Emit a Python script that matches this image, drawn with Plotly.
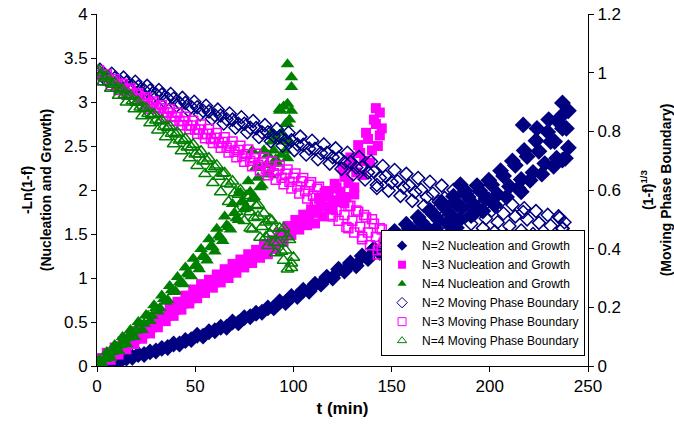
import plotly.graph_objects as go

# ---- Nucleation and growth, -Ln(1-f) (left axis) ----
t_n2_ng = [0, 3, 6, 9, 12, 15, 18, 21, 24, 27, 30, 33, 36, 39, 42, 45, 48, 51, 54, 57, 60,
           63, 66, 69, 72, 75, 78, 81, 84, 87, 90, 93, 96, 99, 102, 105, 108, 111, 114, 117, 120,
           123, 126, 129, 132, 135, 138, 141, 144, 147, 150, 153, 156, 159, 162, 165, 168, 171,
           174, 177, 180, 183, 186, 189, 192, 195, 198, 201, 204, 207, 210, 213, 216, 219, 222,
           225, 228, 231, 234, 237, 240,
           151.5, 154.5, 157.5, 160.5, 163.5, 166.5, 169.5, 172.5, 175.5, 178.5, 181.5, 184.5,
           187.5, 190.5, 193.5, 196.5, 199.5, 202.5, 205.5, 208.5, 211.5, 214.5, 217.5, 220.5,
           223.5, 226.5, 229.5, 232.5, 235.5, 238.5,
           217, 224, 237, 236, 239, 183, 237, 216, 185, 230, 240, 233]
v_n2_ng = [0.00, 0.01, 0.03, 0.05, 0.06, 0.09, 0.10, 0.13, 0.13, 0.16, 0.17, 0.20, 0.21, 0.25,
           0.25, 0.29, 0.30, 0.35, 0.34, 0.39, 0.40, 0.44, 0.44, 0.50, 0.49, 0.55, 0.56, 0.60,
           0.61, 0.66, 0.66, 0.73, 0.72, 0.79, 0.79, 0.86, 0.85, 0.93, 0.93, 1.01, 1.00, 1.10,
           1.08, 1.17, 1.14, 1.25, 1.22, 1.33, 1.29, 1.42, 1.36, 1.48, 1.45, 1.56, 1.52, 1.64,
           1.57, 1.73, 1.66, 1.80, 1.72, 1.84, 1.80, 1.92, 1.83, 1.99, 1.90, 2.06, 1.95, 2.16,
           2.04, 2.28, 2.12, 2.38, 2.20, 2.44, 2.30, 2.55, 2.36, 2.70, 2.48,
           1.53, 1.35, 1.61, 1.42, 1.69, 1.49, 1.77, 1.56, 1.86, 1.62, 1.93, 1.66, 1.99, 1.71,
           2.05, 1.76, 2.11, 1.83, 2.22, 1.92, 2.33, 2.02, 2.45, 2.11, 2.56, 2.18, 2.66, 2.27,
           2.76, 2.36,
           2.74, 2.70, 2.99, 2.83, 2.70, 1.57, 2.34, 1.98, 2.06, 2.80, 2.90, 2.55]

t_n3_ng = [0, 2, 4, 6, 8, 10, 12, 14, 16, 18, 20, 22, 24, 26, 28, 30, 32, 34, 36, 38, 40, 42,
           44, 46, 48, 50, 52, 54, 56, 58, 60, 62, 64, 66, 68, 70, 72, 74, 76, 78, 80, 82, 84,
           86, 88, 90, 92, 94, 96, 98, 100, 102, 104, 106, 108, 110, 112, 114, 116, 118, 120,
           122, 124, 126, 128, 130, 132, 134, 136, 138, 140, 142, 144,
           1, 3, 5, 7, 9, 11, 13, 15, 17, 19, 21, 23, 25, 27, 29, 31, 33, 35, 37, 39, 41, 43,
           45, 47, 49, 51, 53, 55, 57, 59, 61, 63, 65, 67, 69, 71, 73, 75, 77, 79, 81, 83, 85,
           87, 89, 91, 93, 95, 97, 99, 101, 103, 105, 107, 109, 111, 113, 115, 117, 119, 121,
           123, 125, 127, 129, 131, 133, 135, 137, 139, 141, 143,
           142, 144, 145, 131, 126, 120, 116]
v_n3_ng = [0.02, 0.06, 0.07, 0.13, 0.13, 0.19, 0.19, 0.25, 0.25, 0.31, 0.31, 0.37, 0.37, 0.44,
           0.44, 0.50, 0.51, 0.57, 0.57, 0.64, 0.64, 0.70, 0.71, 0.77, 0.77, 0.84, 0.84, 0.90,
           0.90, 0.95, 0.95, 1.01, 1.01, 1.07, 1.07, 1.12, 1.13, 1.18, 1.19, 1.24, 1.24, 1.29,
           1.29, 1.34, 1.35, 1.40, 1.41, 1.48, 1.49, 1.56, 1.57, 1.63, 1.62, 1.69, 1.67, 1.75,
           1.74, 1.84, 1.81, 1.93, 1.88, 2.03, 1.98, 2.15, 2.08, 2.27, 2.20, 2.42, 2.33, 2.58,
           2.45, 2.75, 2.62,
           0.09, 0.01, 0.15, 0.07, 0.21, 0.13, 0.28, 0.19, 0.34, 0.25, 0.40, 0.31, 0.46, 0.37,
           0.53, 0.44, 0.60, 0.51, 0.66, 0.57, 0.73, 0.64, 0.80, 0.71, 0.87, 0.77, 0.93, 0.83,
           0.98, 0.89, 1.04, 0.95, 1.10, 1.00, 1.16, 1.06, 1.21, 1.12, 1.27, 1.17, 1.32, 1.23,
           1.38, 1.27, 1.43, 1.33, 1.51, 1.41, 1.59, 1.49, 1.66, 1.55, 1.72, 1.60, 1.78, 1.62,
           1.90, 1.70, 1.98, 1.78, 2.07, 1.88, 2.26, 1.92, 2.37, 2.03, 2.51, 2.17, 2.65, 2.31,
           2.80, 2.50,
           2.93, 2.88, 2.70, 1.95, 1.85, 1.78, 1.95]

t_n4_ng = [0, 2, 4, 6, 8, 10, 12, 14, 16, 18, 20, 22, 24, 26, 28, 30, 32, 34, 36, 38, 40, 42,
           44, 46, 48, 50, 52, 54, 56, 58, 60, 62, 64, 66, 68, 70, 72, 74, 76, 78, 80, 82, 84,
           86, 88, 90, 92, 94, 96, 98,
           1, 3, 5, 7, 9, 11, 13, 15, 17, 19, 21, 23, 25, 27, 29, 31, 33, 35, 37, 39, 41, 43,
           45, 47, 49, 51, 53, 55, 57, 59, 61, 63, 65, 67, 69, 71, 73, 75, 77, 79, 81, 83, 85,
           87, 89, 91, 93, 95, 97,
           97, 99, 99, 95, 97, 93, 96, 91, 89, 87, 85, 98, 94, 99, 83, 90, 79, 97]
v_n4_ng = [0.00, 0.05, 0.08, 0.14, 0.16, 0.22, 0.24, 0.31, 0.32, 0.39, 0.40, 0.48, 0.48, 0.57,
           0.57, 0.66, 0.66, 0.76, 0.75, 0.86, 0.85, 0.95, 0.93, 1.05, 1.02, 1.14, 1.10, 1.25,
           1.20, 1.36, 1.30, 1.48, 1.42, 1.60, 1.55, 1.74, 1.66, 1.86, 1.80, 1.98, 1.92, 2.14,
           2.05, 2.28, 2.18, 2.45, 2.30, 2.65, 2.45, 2.80,
           0.07, 0.01, 0.16, 0.09, 0.24, 0.17, 0.33, 0.25, 0.41, 0.33, 0.50, 0.41, 0.58, 0.51,
           0.69, 0.62, 0.80, 0.73, 0.91, 0.84, 1.01, 0.94, 1.12, 1.04, 1.22, 1.14, 1.33, 1.24,
           1.44, 1.35, 1.56, 1.46, 1.70, 1.58, 1.84, 1.68, 1.97, 1.78, 2.10, 1.90, 2.26, 2.03,
           2.45, 2.18, 2.66, 2.35, 2.90, 2.55, 2.75,
           3.43, 3.28, 3.17, 2.95, 2.98, 2.92, 2.75, 2.60, 2.55, 2.40, 2.45, 2.55, 2.40, 2.90,
           2.25, 2.30, 2.45, 2.36]

# ---- Moving phase boundary, (1-f)^(1/3) (right axis) ----
t_n2_mpb = [0, 3, 6, 9, 12, 15, 18, 21, 24, 27, 30, 33, 36, 39, 42, 45, 48, 51, 54, 57, 60,
            63, 66, 69, 72, 75, 78, 81, 84, 87, 90, 93, 96, 99, 102, 105, 108, 111, 114, 117,
            120, 123, 126, 129, 132, 135, 138, 141, 144, 147, 150, 153, 156, 159, 162, 165, 168,
            171, 174, 177, 180, 183, 186, 189, 192, 195, 198, 201, 204, 207, 210, 213, 216, 219,
            222, 225, 228, 231, 234, 237, 240,
            1.5, 4.5, 7.5, 10.5, 13.5, 16.5, 19.5, 22.5, 25.5, 28.5, 31.5, 34.5, 37.5, 40.5,
            43.5, 46.5, 49.5, 52.5, 55.5, 58.5, 61.5, 64.5, 67.5, 70.5, 73.5, 76.5, 79.5, 82.5,
            85.5, 88.5, 91.5, 94.5, 97.5, 100.5, 103.5, 106.5, 109.5, 112.5, 115.5, 118.5, 121.5,
            124.5, 127.5, 130.5, 133.5, 136.5, 139.5, 142.5, 145.5, 148.5, 151.5, 154.5, 157.5,
            160.5, 163.5, 166.5, 169.5, 172.5, 175.5, 178.5, 181.5, 184.5, 187.5, 190.5, 193.5,
            196.5, 199.5, 202.5, 205.5, 208.5, 211.5, 214.5, 217.5, 220.5, 223.5, 226.5, 229.5,
            232.5, 235.5, 238.5,
            230, 236, 238, 235, 225, 218, 181, 224, 239, 237, 217, 142.5]
v_n2_mpb = [1.000, 0.995, 0.983, 0.981, 0.969, 0.967, 0.955, 0.953, 0.940, 0.939, 0.926, 0.925,
            0.912, 0.911, 0.897, 0.897, 0.883, 0.882, 0.870, 0.868, 0.855, 0.854, 0.841, 0.840,
            0.826, 0.826, 0.812, 0.811, 0.797, 0.797, 0.784, 0.783, 0.769, 0.769, 0.755, 0.754,
            0.741, 0.740, 0.726, 0.726, 0.712, 0.710, 0.694, 0.694, 0.677, 0.678, 0.660, 0.662,
            0.642, 0.646, 0.626, 0.630, 0.609, 0.615, 0.593, 0.601, 0.576, 0.588, 0.560, 0.573,
            0.543, 0.561, 0.530, 0.551, 0.517, 0.540, 0.503, 0.530, 0.490, 0.520, 0.477, 0.510,
            0.462, 0.500, 0.450, 0.488, 0.436, 0.478, 0.425, 0.468, 0.412,
            1.010, 0.976, 0.996, 0.961, 0.983, 0.947, 0.969, 0.932, 0.955, 0.917, 0.941, 0.902,
            0.927, 0.888, 0.914, 0.873, 0.901, 0.858, 0.887, 0.843, 0.874, 0.827, 0.861, 0.812,
            0.848, 0.797, 0.835, 0.781, 0.821, 0.766, 0.808, 0.751, 0.795, 0.736, 0.782, 0.721,
            0.768, 0.705, 0.755, 0.690, 0.742, 0.672, 0.727, 0.654, 0.712, 0.636, 0.697, 0.617,
            0.682, 0.598, 0.668, 0.580, 0.655, 0.563, 0.641, 0.546, 0.628, 0.528, 0.615, 0.510,
            0.600, 0.497, 0.590, 0.485, 0.580, 0.470, 0.570, 0.458, 0.560, 0.445, 0.550, 0.430,
            0.538, 0.420, 0.528, 0.405, 0.515, 0.395, 0.505, 0.385,
            0.390, 0.410, 0.490, 0.510, 0.410, 0.440, 0.470, 0.410, 0.400, 0.470, 0.525, 0.607]

t_n3_mpb = [0, 2, 4, 6, 8, 10, 12, 14, 16, 18, 20, 22, 24, 26, 28, 30, 32, 34, 36, 38, 40, 42,
            44, 46, 48, 50, 52, 54, 56, 58, 60, 62, 64, 66, 68, 70, 72, 74, 76, 78, 80, 82, 84,
            86, 88, 90, 92, 94, 96, 98, 100, 102, 104, 106, 108, 110, 112, 114, 116, 118, 120,
            122, 124, 126, 128, 130, 132, 134, 136, 138, 140, 142, 144, 146,
            1, 3, 5, 7, 9, 11, 13, 15, 17, 19, 21, 23, 25, 27, 29, 31, 33, 35, 37, 39, 41, 43,
            45, 47, 49, 51, 53, 55, 57, 59, 61, 63, 65, 67, 69, 71, 73, 75, 77, 79, 81, 83, 85,
            87, 89, 91, 93, 95, 97, 99, 101, 103, 105, 107, 109, 111, 113, 115, 117, 119, 121,
            123, 125, 127, 129, 131, 133, 135, 137, 139, 141, 143, 145,
            143, 145, 135, 128, 120, 112, 87]
v_n3_mpb = [1.000, 0.992, 0.986, 0.976, 0.970, 0.960, 0.955, 0.944, 0.940, 0.928, 0.925, 0.912,
            0.910, 0.897, 0.894, 0.882, 0.879, 0.866, 0.864, 0.851, 0.849, 0.836, 0.834, 0.821,
            0.820, 0.806, 0.806, 0.790, 0.792, 0.774, 0.778, 0.760, 0.764, 0.744, 0.750, 0.730,
            0.736, 0.715, 0.722, 0.700, 0.708, 0.686, 0.694, 0.672, 0.680, 0.657, 0.668, 0.642,
            0.655, 0.628, 0.642, 0.612, 0.630, 0.596, 0.618, 0.580, 0.604, 0.565, 0.590, 0.548,
            0.575, 0.532, 0.560, 0.515, 0.545, 0.495, 0.530, 0.475, 0.515, 0.455, 0.500, 0.440,
            0.470, 0.420,
            1.008, 0.973, 0.994, 0.957, 0.978, 0.941, 0.962, 0.925, 0.946, 0.909, 0.931, 0.893,
            0.916, 0.877, 0.902, 0.863, 0.889, 0.849, 0.876, 0.835, 0.863, 0.821, 0.850, 0.807,
            0.836, 0.792, 0.823, 0.776, 0.808, 0.760, 0.794, 0.744, 0.780, 0.728, 0.765, 0.712,
            0.751, 0.696, 0.738, 0.681, 0.724, 0.665, 0.710, 0.650, 0.697, 0.635, 0.683, 0.620,
            0.670, 0.605, 0.656, 0.588, 0.641, 0.571, 0.626, 0.554, 0.611, 0.537, 0.596, 0.515,
            0.580, 0.495, 0.563, 0.474, 0.546, 0.455, 0.526, 0.432, 0.506, 0.412, 0.485, 0.395,
            0.465,
            0.380, 0.400, 0.440, 0.470, 0.510, 0.550, 0.665]

t_n4_mpb = [0, 2, 4, 6, 8, 10, 12, 14, 16, 18, 20, 22, 24, 26, 28, 30, 32, 34, 36, 38, 40, 42,
            44, 46, 48, 50, 52, 54, 56, 58, 60, 62, 64, 66, 68, 70, 72, 74, 76, 78, 80, 82, 84,
            86, 88, 90, 92, 94, 96, 98, 100,
            1, 3, 5, 7, 9, 11, 13, 15, 17, 19, 21, 23, 25, 27, 29, 31, 33, 35, 37, 39, 41, 43,
            45, 47, 49, 51, 53, 55, 57, 59, 61, 63, 65, 67, 69, 71, 73, 75, 77, 79, 81, 83, 85,
            87, 89, 91, 93, 95, 97, 99,
            97, 99, 94, 90, 86, 78, 82, 76, 88, 95]
v_n4_mpb = [1.000, 0.990, 0.980, 0.967, 0.960, 0.946, 0.940, 0.925, 0.920, 0.903, 0.898, 0.882,
            0.877, 0.860, 0.856, 0.838, 0.834, 0.816, 0.812, 0.793, 0.790, 0.770, 0.768, 0.746,
            0.746, 0.722, 0.722, 0.698, 0.700, 0.672, 0.678, 0.646, 0.656, 0.622, 0.620, 0.590,
            0.585, 0.560, 0.540, 0.525, 0.505, 0.510, 0.475, 0.490, 0.450, 0.470, 0.420, 0.450,
            0.395, 0.430, 0.370,
            1.008, 0.968, 0.988, 0.946, 0.966, 0.922, 0.944, 0.899, 0.922, 0.876, 0.901, 0.852,
            0.880, 0.828, 0.859, 0.804, 0.838, 0.781, 0.817, 0.757, 0.796, 0.733, 0.775, 0.709,
            0.755, 0.683, 0.732, 0.655, 0.708, 0.625, 0.684, 0.593, 0.658, 0.560, 0.630, 0.527,
            0.600, 0.495, 0.572, 0.466, 0.546, 0.438, 0.521, 0.410, 0.495, 0.385, 0.470, 0.360,
            0.440, 0.335,
            0.330, 0.350, 0.390, 0.420, 0.440, 0.470, 0.550, 0.580, 0.500, 0.470]

x_ticks = [0, 50, 100, 150, 200, 250]
left_ticks = [0, 0.5, 1, 1.5, 2, 2.5, 3, 3.5, 4]
right_ticks = [0, 0.2, 0.4, 0.6, 0.8, 1, 1.2]

NAVY = "#000080"
MAGENTA = "#FF00FF"
GREEN = "#008000"
FONT = "Arial, Liberation Sans, sans-serif"

fig = go.Figure()

# (name, t, values, colour, symbol, plot size, axis, outline width)
series = [
    ("N=2 Nucleation and Growth", t_n2_ng, v_n2_ng, NAVY, "diamond", 13, "y", 0),
    ("N=3 Nucleation and Growth", t_n3_ng, v_n3_ng, MAGENTA, "square", 10, "y", 0),
    ("N=4 Nucleation and Growth", t_n4_ng, v_n4_ng, GREEN, "triangle-up", 12, "y", 0),
    ("N=2 Moving Phase Boundary", t_n2_mpb, v_n2_mpb, NAVY, "diamond-open", 10, "y2", 1.5),
    ("N=3 Moving Phase Boundary", t_n3_mpb, v_n3_mpb, MAGENTA, "square-open", 9, "y2", 1.5),
    ("N=4 Moving Phase Boundary", t_n4_mpb, v_n4_mpb, GREEN, "triangle-up-open", 11, "y2", 1.5),
]

for name, tx, vy, col, sym, sz, ax, lw in series:
    fig.add_trace(go.Scatter(
        x=tx, y=vy, mode="markers", name=name, yaxis=ax, showlegend=False,
        legendgroup=name,
        marker=dict(symbol=sym, size=sz, color=col, line=dict(width=lw, color=col)),
    ))

# legend entries use smaller symbols than the dense plotted bands
for name, tx, vy, col, sym, sz, ax, lw in series:
    fig.add_trace(go.Scatter(
        x=[None], y=[None], mode="markers", name=name, yaxis=ax, legendgroup=name,
        marker=dict(symbol=sym, size=8, color=col, line=dict(width=min(lw, 1), color=col)),
    ))

axis_common = dict(showgrid=False, zeroline=False, showline=True, linecolor="black",
                   linewidth=1, ticks="outside", ticklen=5, tickcolor="black",
                   automargin=False,
                   tickfont=dict(family=FONT, size=17, color="black"))

fig.update_layout(
    width=674, height=424,
    margin=dict(l=97, r=86, t=14, b=58),
    paper_bgcolor="white", plot_bgcolor="white",
    font=dict(family=FONT, color="black"),
    showlegend=True,
    xaxis=dict(range=[0, 250], tickvals=x_ticks, **axis_common,
               title=dict(text="<b>t (min)</b>", font=dict(family=FONT, size=17), standoff=6)),
    yaxis=dict(range=[0, 4], tickvals=left_ticks, **axis_common,
               title=dict(text="<b>-Ln(1-f)<br>(Nucleation and Growth)</b>",
                          font=dict(family=FONT, size=14), standoff=9)),
    yaxis2=dict(range=[0, 1.2], tickvals=right_ticks, overlaying="y", side="right",
                anchor="x", **axis_common,
                title=dict(text="<b>(1-f)<sup>1/3</sup><br>(Moving Phase Boundary)</b>",
                           font=dict(family=FONT, size=14), standoff=23)),
    yaxis3=dict(range=[0, 1.2], tickvals=right_ticks, overlaying="y", side="right",
                anchor="x", showgrid=False, zeroline=False, showline=False, automargin=False,
                ticks="inside", ticklen=5, tickcolor="black", showticklabels=False),
    legend=dict(x=0.994, y=0.028, xanchor="right", yanchor="bottom",
                bgcolor="white", bordercolor="black", borderwidth=1,
                font=dict(family=FONT, size=12, color="black"),
                itemsizing="trace", tracegroupgap=0),
)

fig.write_html("out.html")
